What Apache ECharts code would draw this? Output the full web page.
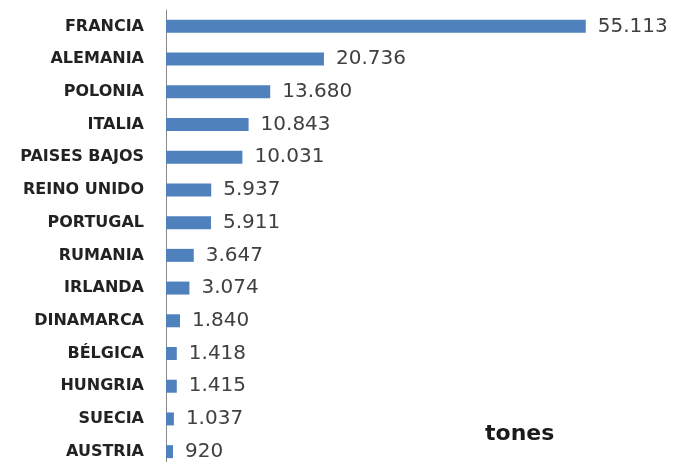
<!DOCTYPE html>
<html>
<head>
<meta charset="utf-8">
<script src="https://cdn.jsdelivr.net/npm/echarts@6/dist/echarts.min.js"></script>
<style>html,body{margin:0;padding:0;background:#fff;}#c{width:674px;height:462px;}</style>
</head>
<body>
<div id="c"></div>
<script>
var categories = ['FRANCIA','ALEMANIA','POLONIA','ITALIA','PAISES BAJOS','REINO UNIDO','PORTUGAL','RUMANIA','IRLANDA','DINAMARCA','BÉLGICA','HUNGRIA','SUECIA','AUSTRIA'];
var values = [55113,20736,13680,10843,10031,5937,5911,3647,3074,1840,1418,1415,1037,920];
var unitLabel = 'tones';

function fmt(v){
  if (v < 1000) return String(v);
  var r = v % 1000;
  return Math.floor(v/1000) + '.' + (r < 10 ? '00' + r : r < 100 ? '0' + r : String(r));
}

var chart = echarts.init(document.getElementById('c'));
chart.setOption({
  animation: false,
  backgroundColor: '#ffffff',
  title: {
    text: unitLabel,
    left: 480, top: 418,
    textStyle: { fontFamily: 'DejaVu Sans', fontWeight: 'bold', fontSize: 22, color: '#1a1a1a' }
  },
  grid: { left: 166, right: 51, top: 10, height: 458, containLabel: false, outerBoundsMode: 'none' },
  xAxis: {
    type: 'value', min: 0, max: 60000, show: false
  },
  yAxis: {
    type: 'category', data: categories, inverse: true,
    axisLine: { show: true, lineStyle: { color: '#8a8a8a', width: 1 } },
    axisTick: { show: false },
    axisLabel: { margin: 22, fontFamily: 'DejaVu Sans', fontWeight: 'bold', fontSize: 16, color: '#222222' }
  },
  series: [{
    type: 'bar', data: values, barWidth: 13,
    itemStyle: { color: '#4F81BD' },
    label: {
      show: true, position: 'right', distance: 12,
      fontFamily: 'DejaVu Sans', fontSize: 20, color: '#404040',
      formatter: function(p){ return fmt(p.value); }
    }
  }]
});
</script>
</body>
</html>
